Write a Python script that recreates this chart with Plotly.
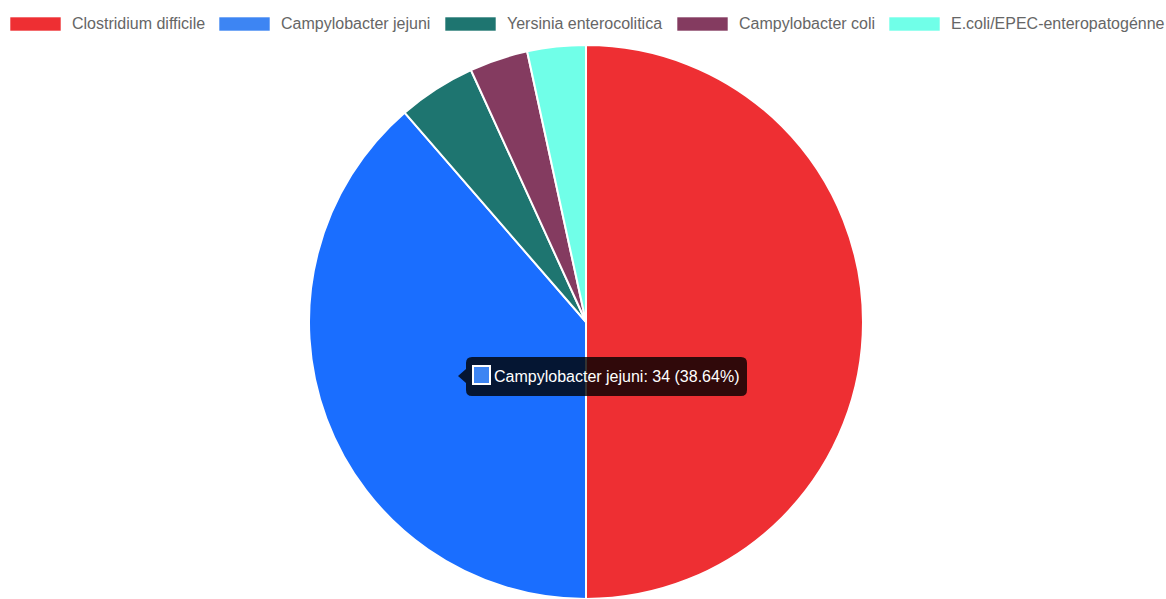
import plotly.graph_objects as go

# ---- data ----
labels = ["Clostridium difficile", "Campylobacter jejuni", "Yersinia enterocolitica",
          "Campylobacter coli", "E.coli/EPEC-enteropatogénne"]
values = [44, 34, 4, 3, 3]
slice_colors = ["#EE2F33", "#1A6EFF", "#1E7570", "#843B60", "#70FFE8"]
legend_colors = ["#EE2F33", "#3D85F3", "#1E7570", "#843B60", "#70FFE8"]
hover_index = 1

W, H = 1166, 599

def px(x):
    return x / W

def py(y):
    return 1 - y / H

fig = go.Figure()
fig.add_trace(go.Pie(
    labels=labels, values=values, sort=False, direction="clockwise", rotation=0,
    marker=dict(colors=slice_colors, line=dict(color="#FFFFFF", width=2)),
    textinfo="none", hoverinfo="skip", showlegend=False,
    domain=dict(x=[px(307), px(865)], y=[py(599), py(45)]),
))

shapes = []
annotations = []

# ---- custom legend (layout positions) ----
legend_box_x = [10, 219, 445, 677, 889]
box_w, box_top, box_bot = 51, 17, 31
for i, lab in enumerate(labels):
    x0 = legend_box_x[i]
    shapes.append(dict(type="rect", xref="paper", yref="paper",
                       x0=px(x0), x1=px(x0 + box_w), y0=py(box_bot), y1=py(box_top),
                       fillcolor=legend_colors[i], line=dict(color="rgba(255,255,255,0.6)", width=1)))
    annotations.append(dict(x=px(x0 + box_w + 9), y=py(24), xref="paper", yref="paper",
                            text=lab, showarrow=False, xanchor="left", yanchor="middle",
                            font=dict(family="Liberation Sans, Arial", size=16, color="#666666")))

# ---- tooltip ----
tx0, tx1, ty0, ty1, r = 466, 747, 357, 396, 6
tip_x, tip_y = 458, 376
path_pts = (
    f"M {px(tx0 + r)},{py(ty0)} L {px(tx1 - r)},{py(ty0)} "
    f"Q {px(tx1)},{py(ty0)} {px(tx1)},{py(ty0 + r)} "
    f"L {px(tx1)},{py(ty1 - r)} Q {px(tx1)},{py(ty1)} {px(tx1 - r)},{py(ty1)} "
    f"L {px(tx0 + r)},{py(ty1)} Q {px(tx0)},{py(ty1)} {px(tx0)},{py(ty1 - r)} "
    f"L {px(tx0)},{py(tip_y + 7)} L {px(tip_x)},{py(tip_y)} L {px(tx0)},{py(tip_y - 7)} "
    f"L {px(tx0)},{py(ty0 + r)} Q {px(tx0)},{py(ty0)} {px(tx0 + r)},{py(ty0)} Z"
)
shapes.append(dict(type="path", xref="paper", yref="paper", path=path_pts,
                   fillcolor="rgba(0,0,0,0.8)", line=dict(width=0)))
shapes.append(dict(type="rect", xref="paper", yref="paper",
                   x0=px(473), x1=px(490), y0=py(384), y1=py(366),
                   fillcolor=legend_colors[hover_index], line=dict(color="#FFFFFF", width=2)))
total = sum(values)
v = values[hover_index]
tip_text = f"{labels[hover_index]}: {v} ({v / total * 100:.2f}%)"
annotations.append(dict(x=px(492), y=py(376), xref="paper", yref="paper",
                        text=tip_text, showarrow=False, xanchor="left", yanchor="middle",
                        font=dict(family="Liberation Sans, Arial", size=16, color="#FFFFFF")))

fig.update_layout(
    width=W, height=H,
    margin=dict(l=0, r=0, t=0, b=0),
    paper_bgcolor="#FFFFFF", plot_bgcolor="#FFFFFF",
    shapes=shapes, annotations=annotations,
)

fig.write_html("out.html", config={"displayModeBar": False},
               post_script="document.body.style.margin='0';document.body.style.overflow='hidden';")
